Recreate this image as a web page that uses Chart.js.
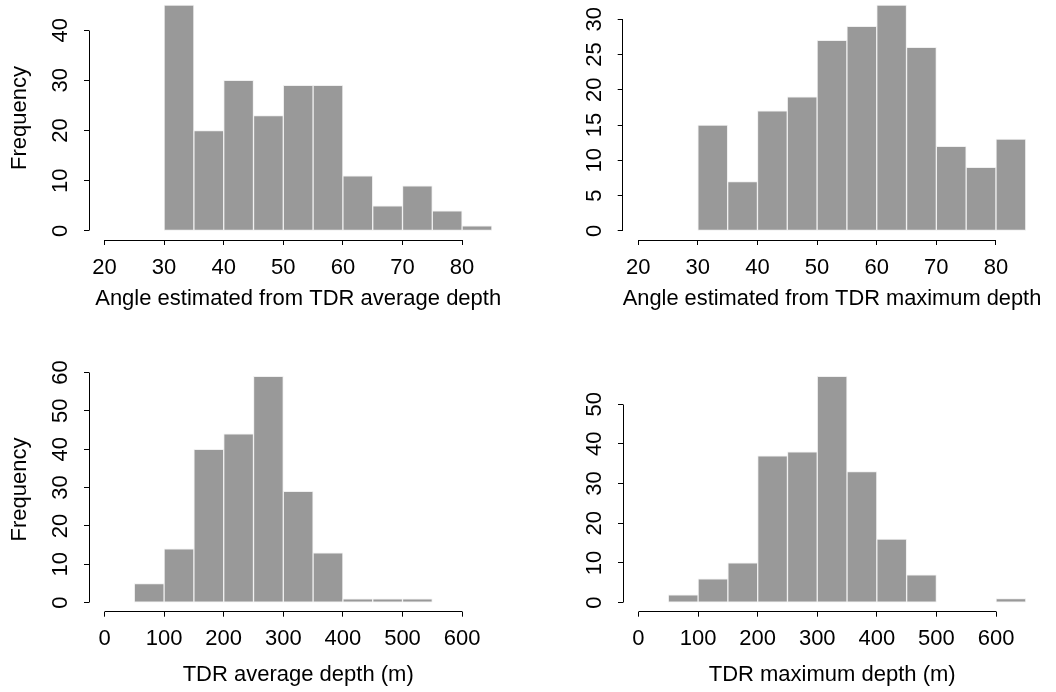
<!DOCTYPE html>
<html>
<head>
<meta charset="utf-8">
<script src="https://cdn.jsdelivr.net/npm/chart.js@4.4.0/dist/chart.umd.min.js"></script>
<style>
  body { margin: 0; width: 1056px; height: 692px; overflow: hidden; background: #fff; position: relative; }
  .panel { position: absolute; }
</style>
</head>
<body>
<div class="panel" style="left:0px;top:-34px"><canvas id="c1" width="528" height="380"></canvas></div>
<div class="panel" style="left:528px;top:-34px"><canvas id="c2" width="528" height="380"></canvas></div>
<div class="panel" style="left:0px;top:337px"><canvas id="c3" width="528" height="355"></canvas></div>
<div class="panel" style="left:528px;top:337px"><canvas id="c4" width="528" height="355"></canvas></div>
<script>
// bin edges
var angleBreaks = [20, 25, 30, 35, 40, 45, 50, 55, 60, 65, 70, 75, 80, 85];
var depthBreaks = [0, 50, 100, 150, 200, 250, 300, 350, 400, 450, 500, 550, 600, 650];

// counts per bin
var angleAvgCounts = [0, 0, 45, 20, 30, 23, 29, 29, 11, 5, 9, 4, 1];
var angleMaxCounts = [0, 0, 15, 7, 17, 19, 27, 29, 32, 26, 12, 9, 13];
var depthAvgCounts = [0, 5, 14, 40, 44, 59, 29, 13, 1, 1, 1, 0, 0];
var depthMaxCounts = [0, 2, 6, 10, 37, 38, 57, 33, 16, 7, 0, 0, 1];

// tick labels
var angleTicks = [20, 30, 40, 50, 60, 70, 80];
var depthTicks = [0, 100, 200, 300, 400, 500, 600];
var angleAvgYTicks = [0, 10, 20, 30, 40];
var angleMaxYTicks = [0, 5, 10, 15, 20, 25, 30];
var depthAvgYTicks = [0, 10, 20, 30, 40, 50, 60];
var depthMaxYTicks = [0, 10, 20, 30, 40, 50];

var FONT = "'Liberation Sans', Arial, Helvetica, sans-serif";

function align(p) { return Math.round(p - 0.5) + 0.5; }

// R style axis lines: only from first to last tick
var axisLines = {
  id: 'axisLines',
  afterDraw: function(chart) {
    var ctx = chart.ctx, xs = chart.scales.x, ys = chart.scales.y;
    var xt = xs.ticks, yt = ys.ticks;
    var yLine = align(xs.top), xLine = align(ys.right);
    ctx.save();
    ctx.strokeStyle = '#000';
    ctx.lineWidth = 1;
    ctx.beginPath();
    ctx.moveTo(align(xs.getPixelForValue(xt[0].value)), yLine);
    ctx.lineTo(align(xs.getPixelForValue(xt[xt.length - 1].value)), yLine);
    ctx.moveTo(xLine, align(ys.getPixelForValue(yt[0].value)));
    ctx.lineTo(xLine, align(ys.getPixelForValue(yt[yt.length - 1].value)));
    ctx.stroke();
    ctx.restore();
  }
};

function makeHist(id, breaks, counts, xTicks, yTicks, xTitle, showYTitle, lay) {
  var pts = [];
  for (var i = 0; i < counts.length; i++) {
    pts.push({ x: (breaks[i] + breaks[i + 1]) / 2, y: counts[i] });
  }
  var bMin = breaks[0], bMax = breaks[breaks.length - 1];
  var xr = bMax - bMin;
  var yMax = Math.max.apply(null, counts);

  return new Chart(document.getElementById(id), {
    type: 'bar',
    data: {
      datasets: [{
        data: pts,
        backgroundColor: '#999999',
        borderColor: '#f0f0f0',
        borderWidth: 1,
        borderSkipped: false,
        categoryPercentage: 1,
        barPercentage: 1
      }]
    },
    options: {
      responsive: false,
      animation: false,
      devicePixelRatio: 1,
      layout: { padding: { top: lay.padTop, right: lay.padRight, left: 0, bottom: 0 } },
      plugins: { legend: { display: false }, tooltip: { enabled: false } },
      scales: {
        x: {
          type: 'linear',
          offset: false,
          min: bMin - 0.04 * xr,
          max: bMax + 0.04 * xr,
          afterBuildTicks: function(s) { s.ticks = xTicks.map(function(v) { return { value: v }; }); },
          afterFit: function(s) { s.height = lay.xH; },
          border: { display: false },
          grid: { offset: false, drawOnChartArea: false, drawTicks: true, tickLength: 5, color: '#000', lineWidth: 1 },
          ticks: {
            autoSkip: false, maxRotation: 0, minRotation: 0, padding: 9.5,
            color: '#000', font: { family: FONT, size: 22 },
            callback: function(v) { return String(v); }
          },
          title: {
            display: true, text: xTitle, color: '#000',
            font: { family: FONT, size: 22 },
            padding: { top: 0, bottom: lay.titlePad }
          }
        },
        y: {
          type: 'linear',
          min: -0.04 * yMax,
          max: 1.04 * yMax,
          afterBuildTicks: function(s) { s.ticks = yTicks.map(function(v) { return { value: v }; }); },
          afterFit: function(s) { s.width = lay.yW; },
          border: { display: false },
          grid: { drawOnChartArea: false, drawTicks: true, tickLength: 5, color: '#000', lineWidth: 1 },
          ticks: {
            autoSkip: false, minRotation: 90, maxRotation: 90, crossAlign: 'center', padding: 10.5,
            color: '#000', font: { family: FONT, size: 22 },
            callback: function(v) { return String(v); }
          },
          title: {
            display: showYTitle, text: 'Frequency', color: '#000',
            font: { family: FONT, size: 22 },
            padding: { top: 6.5, bottom: 0 }
          }
        }
      }
    },
    plugins: [axisLines]
  });
}

makeHist('c1', angleBreaks, angleAvgCounts, angleTicks, angleAvgYTicks,
  'Angle estimated from TDR average depth', true,
  { padTop: 30, padRight: 20.6, yW: 89, xH: 106, titlePad: 33.5 });
makeHist('c2', angleBreaks, angleMaxCounts, angleTicks, angleMaxYTicks,
  'Angle estimated from TDR maximum depth', false,
  { padTop: 30, padRight: 14.7, yW: 94.7, xH: 106, titlePad: 33.5 });
makeHist('c3', depthBreaks, depthAvgCounts, depthTicks, depthAvgYTicks,
  'TDR average depth (m)', true,
  { padTop: 30.3, padRight: 20.6, yW: 89, xH: 80.3, titlePad: 3.5 });
makeHist('c4', depthBreaks, depthMaxCounts, depthTicks, depthMaxYTicks,
  'TDR maximum depth (m)', false,
  { padTop: 30.3, padRight: 14.7, yW: 95, xH: 80.3, titlePad: 3.5 });
</script>
</body>
</html>
